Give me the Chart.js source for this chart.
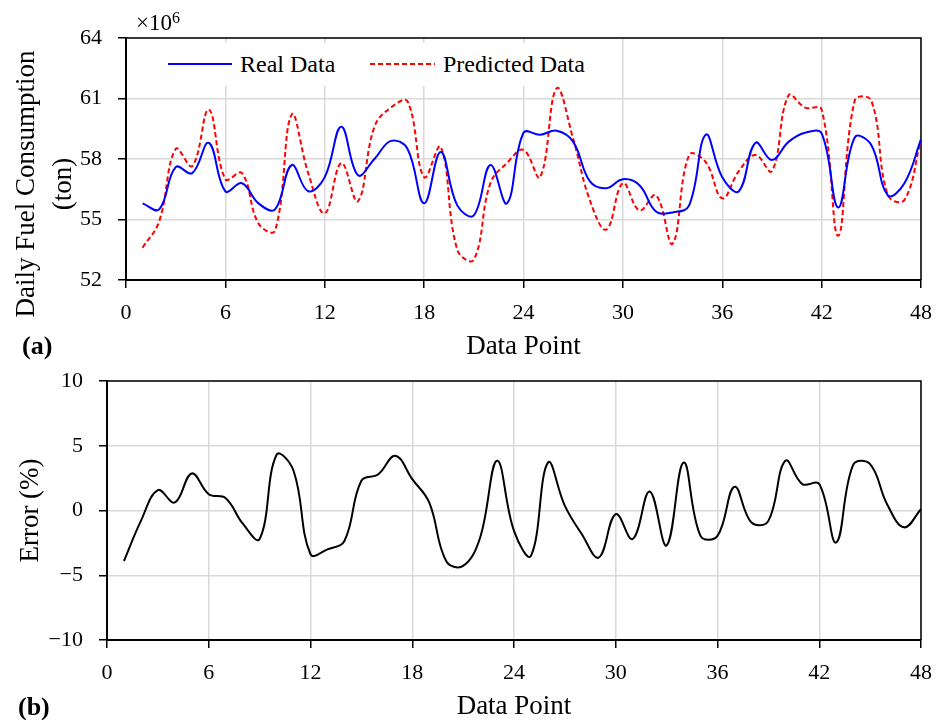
<!DOCTYPE html>
<html>
<head>
<meta charset="utf-8">
<script src="https://cdn.jsdelivr.net/npm/chart.js@4.4.0/dist/chart.umd.min.js"></script>
<style>
  html, body { margin:0; padding:0; background:#fff; }
  body { width:937px; height:720px; position:relative; overflow:hidden; font-family:'Liberation Serif', 'Times New Roman', serif; color:#000; }
  .box { position:absolute; left:0; width:937px; height:360px; }
  .lbl { position:absolute; white-space:nowrap; line-height:1; }
  #legend { position:absolute; left:160px; top:43px; width:440px; height:43px; background:#fff; }
  #legend svg { position:absolute; }
  #legend span { position:absolute; font-size:24px; line-height:1; }
</style>
</head>
<body>
<div class="box" style="top:0"><canvas id="c1" width="937" height="360"></canvas></div>
<div class="box" style="top:360px"><canvas id="c2" width="937" height="360"></canvas></div>

<div id="legend">
  <svg style="left:8px;top:18px" width="66" height="6"><line x1="0" y1="3" x2="64" y2="3" stroke="#0000ff" stroke-width="2"/></svg>
  <span style="left:80px;top:9px">Real Data</span>
  <svg style="left:210px;top:18px" width="66" height="6"><line x1="0" y1="3" x2="65" y2="3" stroke="#ff0000" stroke-width="2" stroke-dasharray="5,3"/></svg>
  <span style="left:283px;top:9px">Predicted Data</span>
</div>

<div class="lbl" style="left:136px;top:11px;font-size:23px">×10<sup style="font-size:16px;vertical-align:7px;line-height:0">6</sup></div>
<div class="lbl" id="ytitle" style="left:44px;top:184px;font-size:27px;text-align:center;line-height:37px;transform:translate(-50%,-50%) rotate(-90deg);">Daily Fuel Consumption<br>(ton)</div>
<div class="lbl" style="left:22px;top:333px;font-size:26px;font-weight:bold">(a)</div>
<div class="lbl" style="left:18px;top:694px;font-size:26px;font-weight:bold">(b)</div>

<script>
// ---- data ----
const dataPoints = [1,2,3,4,5,6,7,8,9,10,11,12,13,14,15,16,17,18,19,20,21,22,23,24,25,26,27,28,29,30,31,32,33,34,35,36,37,38,39,40,41,42,43,44,45,46,47,48];

const realData = [55.8,55.5,57.6,57.3,58.8,56.4,56.8,55.8,55.5,57.7,56.4,57.1,59.6,57.2,58.0,58.9,58.5,55.8,58.35,55.7,55.2,57.7,55.8,59.3,59.2,59.4,58.85,56.9,56.55,57.0,56.7,55.4,55.35,55.7,59.2,57.1,56.4,58.8,57.95,58.85,59.3,59.27,55.6,59.07,58.7,56.2,56.8,58.97];

const predictedData = [53.6,54.9,58.5,57.65,60.45,57.0,57.3,54.8,54.45,60.2,57.3,55.3,57.8,55.9,59.6,60.55,60.85,57.1,58.6,53.5,53.0,56.8,57.8,58.45,57.1,61.5,59.0,55.97,54.5,56.8,55.45,56.2,53.8,58.2,57.85,56.05,57.4,58.2,57.4,61.15,60.55,60.45,54.2,60.9,60.9,56.2,55.97,58.95];

const errorData = [-3.9,-0.8,1.57,0.62,2.86,1.26,0.95,-1.0,-2.2,4.3,3.07,-3.38,-3.0,-2.35,2.3,2.8,4.23,2.42,0.62,-3.9,-4.28,-2.1,3.84,-1.57,-3.5,3.7,0.36,-1.83,-3.63,-0.28,-2.2,1.47,-2.7,3.7,-1.96,-1.96,1.83,-0.93,-0.8,3.84,2.04,2.04,-2.47,3.53,3.58,0.49,-1.3,0.1];

const xTicks = [0,6,12,18,24,30,36,42,48];
const yTicksTop = [52,55,58,61,64];
const yTicksBottom = [-10,-5,0,5,10];

// ---- helpers ----
const FONT = "'Liberation Serif', 'Times New Roman', serif";
const pairs = (ys) => dataPoints.map((x, i) => ({x, y: ys[i]}));

const framePlugin = {
  id: 'frame',
  beforeDatasetsDraw(chart) {
    const {ctx, chartArea: a} = chart;
    ctx.save();
    ctx.strokeStyle = '#000';
    ctx.lineWidth = 1.5;
    ctx.beginPath();
    ctx.moveTo(a.left, a.top);
    ctx.lineTo(a.right, a.top);
    ctx.lineTo(a.right, a.bottom);
    ctx.stroke();
    ctx.restore();
  }
};

function gridOpts() {
  return { color: '#d9d9d9', lineWidth: 1.5, tickLength: 8, tickColor: '#000', tickWidth: 1.5, drawTicks: true };
}

function xScale() {
  return {
    type: 'linear', min: 0, max: 48,
    afterBuildTicks: s => { s.ticks = xTicks.map(v => ({value: v})); },
    afterFit: s => { s.height = 80; s.paddingLeft = 0; s.paddingRight = 0; },
    grid: gridOpts(),
    border: { display: true, color: '#000', width: 2 },
    ticks: { color: '#000', padding: 12, maxRotation: 0, autoSkip: false, font: { family: FONT, size: 22 } },
    title: { display: true, text: 'Data Point', color: '#000', padding: {top:0, bottom:0}, font: { family: FONT, size: 27, lineHeight: 1 } }
  };
}

function yScale(min, max, ticks, width, title, titlePad) {
  return {
    type: 'linear', min, max,
    afterBuildTicks: s => { s.ticks = ticks.map(v => ({value: v})); },
    afterFit: s => { s.width = width; s.paddingTop = 0; s.paddingBottom = 0; },
    grid: gridOpts(),
    border: { display: true, color: '#000', width: 2 },
    ticks: {
      color: '#000', padding: 16, autoSkip: false,
      font: { family: FONT, size: 22 },
      callback: v => (v < 0 ? '\u2212' + Math.abs(v) : String(v))
    },
    title: title ? { display: true, text: title, color: '#000', padding: {top: titlePad, bottom: 0}, font: { family: FONT, size: 27, lineHeight: 1 } } : { display: false }
  };
}

const common = {
  responsive: false,
  animation: false,
  devicePixelRatio: 1,
  plugins: { legend: { display: false }, tooltip: { enabled: false } },
  elements: { point: { radius: 0 } }
};

new Chart(document.getElementById('c1'), {
  type: 'line',
  data: {
    datasets: [
      { label: 'Real Data', data: pairs(realData), borderColor: '#0000ff', borderWidth: 2, tension: 0.4, fill: false },
      { label: 'Predicted Data', data: pairs(predictedData), borderColor: '#ff0000', borderWidth: 2, borderDash: [5, 3], tension: 0.4, fill: false }
    ]
  },
  options: Object.assign({}, common, {
    layout: { padding: { top: 38, right: 16, left: 0, bottom: 0 } },
    scales: {
      x: xScale(),
      y: yScale(52, 64, yTicksTop, 126, null, 0)
    }
  }),
  plugins: [framePlugin]
});

new Chart(document.getElementById('c2'), {
  type: 'line',
  data: {
    datasets: [
      { label: 'Error', data: pairs(errorData), borderColor: '#000', borderWidth: 2, tension: 0.4, fill: false }
    ]
  },
  options: Object.assign({}, common, {
    layout: { padding: { top: 21, right: 16, left: 0, bottom: 0 } },
    scales: {
      x: xScale(),
      y: yScale(-10, 10, yTicksBottom, 107, 'Error (%)', 17.5)
    }
  }),
  plugins: [framePlugin]
});
</script>
</body>
</html>
